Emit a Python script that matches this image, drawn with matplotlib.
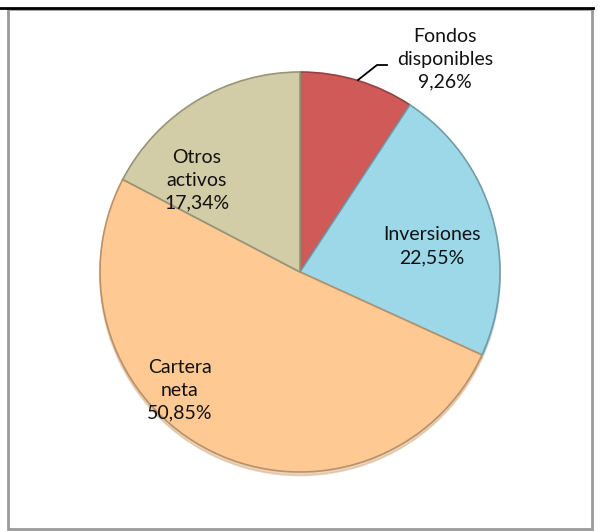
import matplotlib.pyplot as plt
from matplotlib.patches import Rectangle
from matplotlib.lines import Line2D
import matplotlib.colors as mcolors

# Data
labels = ["Fondos\ndisponibles", "Inversiones", "Cartera\nneta", "Otros\nactivos"]
values = [9.26, 22.55, 50.85, 17.34]
colors = ["#D05A57", "#9DD8E8", "#FFC993", "#D2CDA6"]

W, H = 598, 531
fig = plt.figure(figsize=(W / 100, H / 100), dpi=100)
ax = fig.add_axes([0, 0, 1, 1])

# pie in pixel coordinates (y flipped, so angles run the other way)
wedges, _ = ax.pie(values, colors=colors, startangle=-90, counterclock=True,
                   center=(300, 272), radius=200,
                   shadow={"ox": 0, "oy": 2.5, "shade": 0.15},
                   wedgeprops=dict(linewidth=1.2))
for w, c in zip(wedges, colors):
    r, g, b = mcolors.to_rgb(c)
    w.set_edgecolor((r * 0.72, g * 0.72, b * 0.72))

ax.set_xlim(0, W)
ax.set_ylim(H, 0)
ax.set_aspect("equal")
ax.axis("off")

font = "Lato"
fs = 14
txt_kw = dict(ha="center", va="center", fontsize=fs, family=font,
              linespacing=1.42, color="#111111")
ax.text(445, 59, labels[0] + "\n" + "9,26%", **txt_kw)
ax.text(432, 246, labels[1] + "\n" + "22,55%", **txt_kw)
ax.text(180, 390, labels[2] + "\n" + "50,85%", **txt_kw)
ax.text(197, 180, labels[3] + "\n" + "17,34%", **txt_kw)

# leader line for the small slice
ax.add_line(Line2D([358, 377, 387], [80, 65, 65], color="black", lw=1.3))

# frame
ax.add_patch(Rectangle((8, 9), 584, 520, fill=False, edgecolor="#9a9a9a", lw=2))
ax.add_line(Line2D([0, 593], [7.5, 7.5], color="black", lw=2))

fig.savefig("out.png", dpi=100)
